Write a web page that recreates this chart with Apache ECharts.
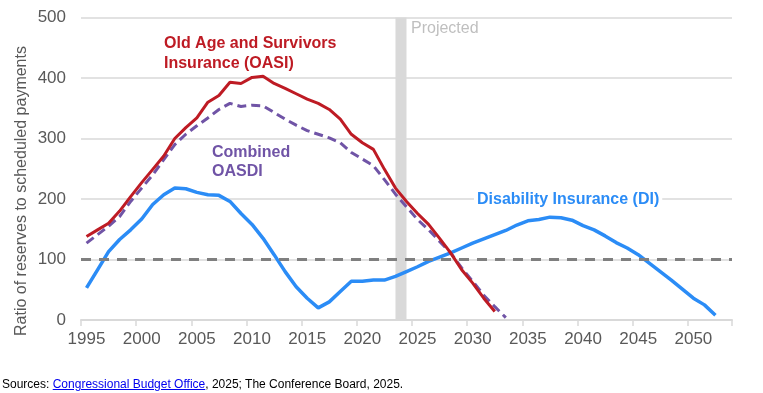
<!DOCTYPE html>
<html>
<head>
<meta charset="utf-8">
<script src="https://cdn.jsdelivr.net/npm/echarts@6/dist/echarts.min.js"></script>
<style>
  html, body { margin: 0; padding: 0; background: #fff; }
  #chart { width: 763px; height: 393px; position: absolute; left: 0; top: 0; }
  #src { position: absolute; left: 2px; top: 377px; font-family: "Liberation Sans", Arial, sans-serif; font-size: 12px; color: #000; white-space: nowrap; }
  #src a { color: #0000ee; text-decoration: underline; }
</style>
</head>
<body>
<div id="chart"></div>
<div id="src">Sources: <a href="#">Congressional Budget Office</a>, 2025; The Conference Board, 2025.</div>
<script>
const years = ["1995","1996","1997","1998","1999","2000","2001","2002","2003","2004",
  "2005","2006","2007","2008","2009","2010","2011","2012","2013","2014",
  "2015","2016","2017","2018","2019","2020","2021","2022","2023","2024",
  "2025","2026","2027","2028","2029","2030","2031","2032","2033","2034",
  "2035","2036","2037","2038","2039","2040","2041","2042","2043","2044",
  "2045","2046","2047","2048","2049","2050","2051","2052","2053"];

// Old Age and Survivors Insurance, 1995-2032
const oasi = [138,149,160,180,204,227,249,271,300,318,
  334,360,371,393,391,401,403,391,383,374,
  365,358,348,332,307,293,282,249,218,196,
  176,158,135,111,83,61,36,14];

// Combined OASDI, 1995-2033
const oasdi = [127,141,155,171,196,218,240,265,290,307,
  321,334,348,358,353,355,354,343,332,322,
  313,307,301,293,277,266,255,232,208,187,
  166,149,130,111,86,64,41,22,4];

// Disability Insurance, 1995-2052
const di = [53,83,113,133,149,167,191,207,218,217,
  211,207,206,196,176,158,135,108,80,55,
  36,20,30,47,64,64,66,66,72,80,
  88,97,104,111,119,127,134,141,148,157,
  164,166,170,169,165,156,149,139,128,119,
  108,94,80,66,51,36,25,8];

const threshold = 100;
const projectedFrom = "2023";
const projectedTo = "2024";

const FONT = '"Liberation Sans", Arial, sans-serif';
const chart = echarts.init(document.getElementById('chart'), null, { renderer: 'canvas' });

chart.setOption({
  animation: false,
  backgroundColor: '#ffffff',
  grid: { left: 81, right: 31, top: 17.5, bottom: 73, containLabel: false },
  xAxis: {
    type: 'category',
    data: years,
    boundaryGap: true,
    axisLine: { show: true, lineStyle: { color: '#d9d9d9', width: 2 } },
    axisTick: { show: true, interval: 4, length: 6, lineStyle: { color: '#d9d9d9', width: 1.5 } },
    axisLabel: { interval: 4, color: '#595959', fontSize: 17, fontFamily: FONT, margin: 11 },
    splitLine: { show: false }
  },
  yAxis: {
    type: 'value',
    min: 0, max: 500, interval: 100,
    axisLine: { show: false },
    axisTick: { show: false },
    axisLabel: { color: '#595959', fontSize: 17, fontFamily: FONT, margin: 15 },
    splitLine: { show: true, lineStyle: { color: '#d9d9d9', width: 1.5 } }
  },
  series: [
    {
      name: 'Projected band',
      type: 'line',
      data: [],
      markArea: {
        silent: true,
        itemStyle: { color: '#d9d9d9' },
        data: [[{ xAxis: projectedFrom, yAxis: 0 }, { xAxis: projectedTo, yAxis: 500 }]]
      }
    },
    {
      name: 'Threshold',
      type: 'line',
      data: [],
      markLine: {
        silent: true,
        symbol: ['none', 'none'],
        label: { show: false },
        lineStyle: { color: '#7f7f7f', width: 3, type: [10, 8] },
        data: [{ yAxis: threshold }]
      }
    },
    {
      name: 'DI',
      type: 'line',
      data: di,
      showSymbol: false,
      lineStyle: { color: '#2b8cf6', width: 3.5 },
      z: 3
    },
    {
      name: 'OASDI',
      type: 'line',
      data: oasdi,
      showSymbol: false,
      lineStyle: { color: '#7054a6', width: 3, type: [9, 5] },
      z: 4
    },
    {
      name: 'OASI',
      type: 'line',
      data: oasi,
      showSymbol: false,
      lineStyle: { color: '#be1b24', width: 3 },
      z: 5
    }
  ],
  graphic: [
    {
      type: 'text', left: 164, top: 34, z: 10,
      style: { text: 'Old Age and Survivors\nInsurance (OASI)', fill: '#be1b24', font: 'bold 16px ' + FONT, lineHeight: 20 }
    },
    {
      type: 'text', left: 212, top: 143, z: 10,
      style: { text: 'Combined\nOASDI', fill: '#7054a6', font: 'bold 16px ' + FONT, lineHeight: 19 }
    },
    {
      type: 'text', left: 474, top: 190, z: 10,
      style: { text: 'Disability Insurance (DI)', fill: '#2b8cf6', font: 'bold 16px ' + FONT, backgroundColor: '#ffffff', padding: [2, 3, 2, 3] }
    },
    {
      type: 'text', left: 411, top: 21, z: 10,
      style: { text: 'Projected', fill: '#bfbfbf', font: '16px ' + FONT }
    },
    {
      type: 'text', x: 22, y: 191, rotation: Math.PI / 2,
      style: { text: 'Ratio of reserves to scheduled payments', fill: '#595959', font: '16px ' + FONT, align: 'center', verticalAlign: 'middle' }
    }
  ]
});
</script>
</body>
</html>
